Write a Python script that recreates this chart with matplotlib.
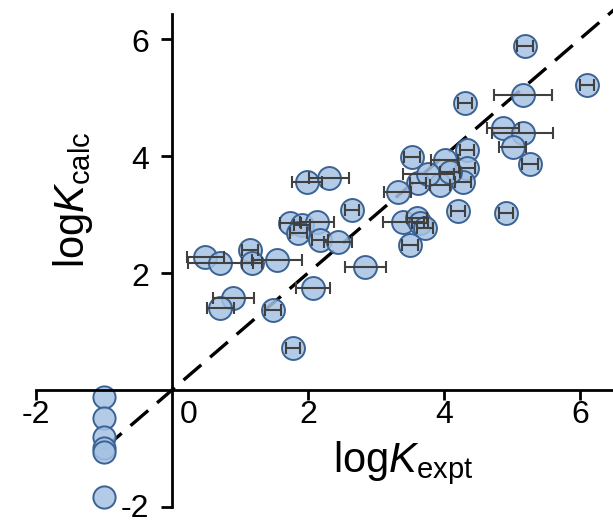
import matplotlib
matplotlib.use("Agg")
import matplotlib.pyplot as plt
import numpy as np

plt.rcParams['font.family'] = ['Liberation Sans', 'DejaVu Sans']
plt.rcParams['mathtext.fontset'] = 'custom'
plt.rcParams['mathtext.rm'] = 'Liberation Sans'
plt.rcParams['mathtext.it'] = 'Liberation Sans:italic'

# Points with horizontal error bars (logK_expt, logK_calc, xerr)
expt = [5.19, 6.10, 5.16, 4.31, 4.87, 5.16, 5.01, 5.26, 4.34, 3.53,
        4.01, 4.34, 4.28, 3.94, 3.62, 3.77, 4.09, 3.32, 4.21, 4.91,
        3.40, 3.60, 3.65, 3.72, 3.50, 2.84, 1.99, 2.31, 2.65, 1.74,
        1.91, 2.13, 1.86, 2.18, 2.44, 0.49, 0.71, 1.15, 1.18, 1.54,
        2.07, 0.90, 0.71, 1.49, 1.78]
calc = [5.88, 5.21, 5.04, 4.91, 4.48, 4.39, 4.15, 3.86, 4.10, 3.98,
        3.93, 3.79, 3.56, 3.50, 3.54, 3.69, 3.73, 3.38, 3.06, 3.03,
        2.87, 2.94, 2.85, 2.77, 2.48, 2.10, 3.56, 3.62, 3.08, 2.85,
        2.82, 2.88, 2.68, 2.56, 2.53, 2.28, 2.17, 2.39, 2.17, 2.22,
        1.74, 1.57, 1.40, 1.37, 0.72]
xerr = [0.12, 0.10, 0.43, 0.10, 0.24, 0.45, 0.20, 0.12, 0.10, 0.12,
        0.20, 0.12, 0.12, 0.15, 0.12, 0.38, 0.15, 0.20, 0.10, 0.10,
        0.30, 0.15, 0.12, 0.12, 0.12, 0.30, 0.22, 0.30, 0.10, 0.15,
        0.12, 0.25, 0.12, 0.12, 0.20, 0.27, 0.48, 0.12, 0.15, 0.37,
        0.25, 0.30, 0.20, 0.12, 0.10]

# Points without error bars
neg_expt = [-1.0, -1.0, -1.0, -1.0, -1.0, -1.0]
neg_calc = [-0.12, -0.48, -0.80, -0.99, -1.06, -1.83]

x_ticks = [-2, 2, 4, 6]
x_ticklabels = ['-2', '2', '4', '6']
y_ticks = [-2, 2, 4, 6]
y_ticklabels = ['-2', '2', '4', '6']

fig = plt.figure(figsize=(6.13, 5.21), dpi=100)
ax = fig.add_axes([0, 0, 1, 1])
ax.set_xlim(-2.529, 6.485)
ax.set_ylim(-2.239, 6.667)

face = (0.65, 0.76, 0.89, 0.85)
edge = '#3a6294'

# identity line
ax.plot([-1.0, 6.7], [-1.0, 6.7], color='black', lw=2.4,
        linestyle=(0, (7, 3.5)), zorder=1)

ax.plot(neg_expt, neg_calc, 'o', ms=16, mfc=face, mec=edge, mew=1.4, zorder=2)
ax.plot(expt, calc, 'o', ms=16.5, mfc=face, mec=edge, mew=1.4, zorder=2)
ax.errorbar(expt, calc, xerr=xerr, fmt='none', ecolor='#404040',
            elinewidth=1.5, capsize=4, capthick=1.5, zorder=3)

for s in ['top', 'right']:
    ax.spines[s].set_visible(False)
ax.spines['left'].set_position(('data', 0))
ax.spines['bottom'].set_position(('data', 0))
ax.spines['left'].set_bounds(-2, 6.42)
ax.spines['bottom'].set_bounds(-2, 6.485)
ax.spines['left'].set_linewidth(2)
ax.spines['bottom'].set_linewidth(2)

ax.set_xticks(x_ticks)
ax.set_yticks(y_ticks)
ax.tick_params(axis='x', direction='out', length=7, width=2, labelbottom=False)
ax.tick_params(axis='y', direction='out', length=8, width=2, labelleft=False)

fs = 23
for t, lab in zip(x_ticks, x_ticklabels):
    ax.text(t, -0.42, lab, ha='center', va='center', fontsize=fs)
ax.text(0.25, -0.42, '0', ha='center', va='center', fontsize=fs)
for t, lab in zip(y_ticks, y_ticklabels):
    dy = -0.08 if t > 0 else -0.04
    ax.text(-0.33, t + dy, lab, ha='right', va='center', fontsize=fs)

ax.text(3.4, -1.25, r'log$\mathit{K}_{\mathrm{expt}}$', ha='center', va='center', fontsize=30)
ax.text(-1.45, 3.25, r'log$\mathit{K}_{\mathrm{calc}}$', ha='center', va='center',
        fontsize=30, rotation=90)

fig.savefig('out.png', dpi=100)
